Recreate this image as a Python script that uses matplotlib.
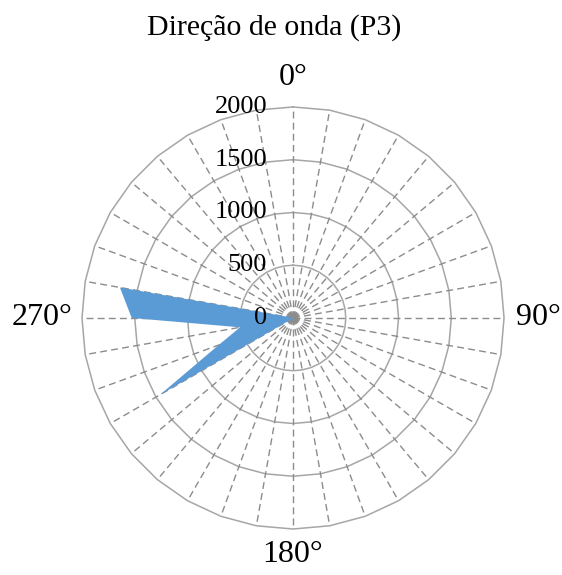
import numpy as np
import matplotlib.pyplot as plt

plt.rcParams['font.family'] = ['Liberation Serif', 'DejaVu Serif']

# wave direction (degrees) and number of occurrences
directions = list(range(0, 360, 10))
counts = [0, 0, 0, 0, 0, 0, 0, 0, 0, 0,
          0, 0, 0, 0, 0, 0, 0, 0, 0, 0,
          0, 0, 0, 15, 1457, 750, 510, 1529, 1666, 15,
          0, 0, 0, 0, 0, 0]
ring_values = [500, 1000, 1500, 2000]
radial_labels = [0, 500, 1000, 1500, 2000]
angle_ticks = [0, 90, 180, 270]
angle_labels = ['0°', '90°', '180°', '270°']

fig = plt.figure(figsize=(5.62, 5.75), dpi=100)
ax = fig.add_axes([0.1459, 0.08, 0.751, 0.734], projection='polar')
ax.set_theta_zero_location('N')
ax.set_theta_direction(-1)
ax.set_ylim(0, 2000)
ax.axis('off')

theta = np.deg2rad(directions + [directions[0]])

# polygon rings
for v in ring_values:
    ax.plot(theta, [v] * len(theta), color='#a6a6a6', lw=1.1, clip_on=False, zorder=1)

# dashed spokes
for d in directions:
    t = np.deg2rad(d)
    ax.plot([t, t], [0, 2000], color='#8c8c8c', lw=1, ls=(0, (5, 3)), clip_on=False, zorder=1)

ax.fill(theta, counts + [counts[0]], color='#5b9bd5', lw=0, zorder=3)

for v in radial_labels:
    ax.annotate(str(v), xy=(0, v), xytext=(-26, 0), textcoords='offset pixels',
                ha='right', va='center', fontsize=19, zorder=5)

offsets = {0: (0, 29), 90: (34, 0), 180: (0, -26), 270: (-40, 0)}
for d, lab in zip(angle_ticks, angle_labels):
    ax.annotate(lab, xy=(np.deg2rad(d), 2000), xytext=offsets[d], textcoords='offset pixels',
                ha='center', va='center', fontsize=23, annotation_clip=False)

fig.text(274 / 562, 1 - 35 / 575, 'Direção de onda (P3)', ha='center', va='baseline', fontsize=21.5)

fig.savefig('out.png', dpi=100)
